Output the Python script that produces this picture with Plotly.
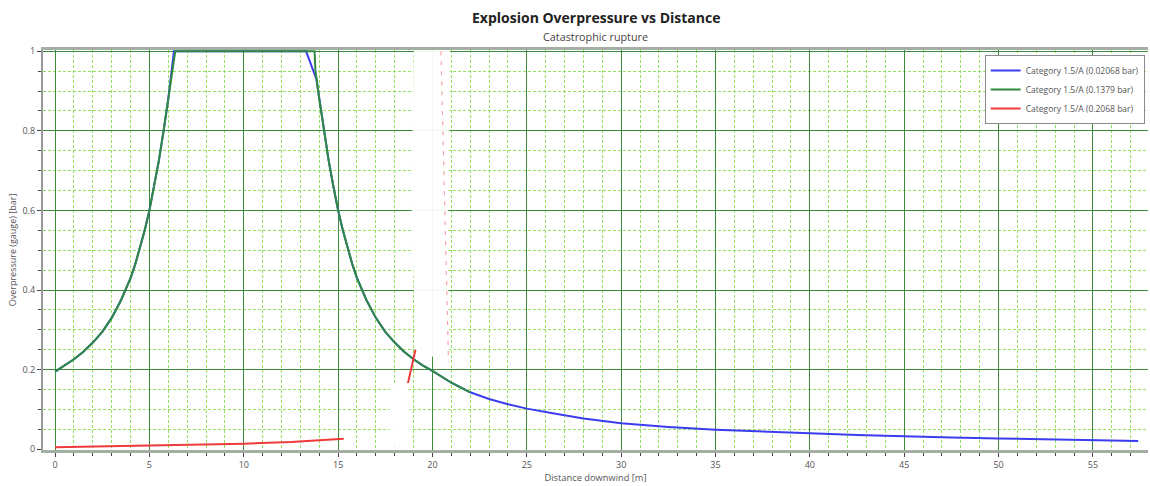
import plotly.graph_objects as go

# ---------------- data ----------------
dist_blue = [0, 0.5, 1, 1.5, 2, 2.5, 3, 3.5, 4, 4.25, 4.5, 4.75, 5, 5.25, 5.5, 5.75, 6.0, 6.3,
             13.3, 13.85, 14.0, 14.25, 14.5, 14.75, 15, 15.25, 15.5, 15.75, 16, 16.5, 17, 17.5,
             18, 18.5, 19, 19.5, 20, 21, 22, 23, 24, 25, 26.3, 28, 30, 32.5, 35, 37.5, 40, 42.5,
             45, 47.5, 50, 52.5, 55, 57.4]
press_blue = [0.195, 0.21, 0.226, 0.245, 0.268, 0.295, 0.33, 0.375, 0.43, 0.465, 0.505, 0.55, 0.60, 0.66, 0.725, 0.80, 0.88, 1.0,
              1.0, 0.93, 0.88, 0.80, 0.725, 0.66, 0.60, 0.55, 0.505, 0.465, 0.43, 0.375, 0.33, 0.295,
              0.268, 0.245, 0.226, 0.21, 0.197, 0.167, 0.143, 0.126, 0.113, 0.102, 0.091, 0.077, 0.065, 0.056,
              0.049, 0.044, 0.040, 0.036, 0.032, 0.0295, 0.027, 0.0245, 0.0225, 0.0205]

dist_green = [0, 0.5, 1, 1.5, 2, 2.5, 3, 3.5, 4, 4.25, 4.5, 4.75, 5, 5.25, 5.5, 5.75, 6.0, 6.2, 6.37,
              13.75, 13.8, 14.0, 14.25, 14.5, 14.75, 15, 15.25, 15.5, 15.75, 16, 16.5, 17, 17.5,
              18, 18.5, 19, 19.5, 20, 21, 22]
press_green = [0.195, 0.21, 0.226, 0.245, 0.268, 0.295, 0.33, 0.375, 0.43, 0.465, 0.505, 0.55, 0.60, 0.66, 0.725, 0.80, 0.88, 0.95, 1.0,
               1.0, 0.95, 0.88, 0.80, 0.725, 0.66, 0.60, 0.55, 0.505, 0.465, 0.43, 0.375, 0.33, 0.295,
               0.268, 0.245, 0.226, 0.21, 0.197, 0.167, 0.143]

# visible red pieces (the rest is hidden by the white patch in the reference)
dist_red = [0, 2.5, 5, 7.5, 10, 12.5, 15.3, None, 18.7, 18.9, 19.1]
press_red = [0.005, 0.007, 0.009, 0.011, 0.014, 0.018, 0.026, None, 0.166, 0.21, 0.25]
dist_red_faint = [20.45, 20.6, 20.7, 20.85]
press_red_faint = [1.0, 0.7, 0.45, 0.22]

series_names = ["Category 1.5/A (0.02068 bar)",
                "Category 1.5/A (0.1379 bar)",
                "Category 1.5/A (0.2068 bar)"]

x_ticks = [0, 5, 10, 15, 20, 25, 30, 35, 40, 45, 50, 55]
y_ticks = [0, 0.2, 0.4, 0.6, 0.8, 1]

FONT = "Open Sans"
BLUE = "#3c3cf0"
GREEN = "#2e8a40"
RED = "#ee3a3a"

fig = go.Figure()
fig.add_trace(go.Scatter(x=dist_blue, y=press_blue, mode="lines", name=series_names[0],
                         line=dict(color=BLUE, width=2)))
fig.add_trace(go.Scatter(x=dist_green, y=press_green, mode="lines", name=series_names[1],
                         line=dict(color=GREEN, width=2)))
fig.add_trace(go.Scatter(x=dist_red, y=press_red, mode="lines", name=series_names[2],
                         line=dict(color=RED, width=2), connectgaps=False))
fig.add_trace(go.Scatter(x=dist_red_faint, y=press_red_faint, mode="lines", showlegend=False,
                         line=dict(color=RED, width=1.2, dash="4px,6px"), opacity=0.45,
                         hoverinfo="skip"))

# white patches present in the reference picture
fig.add_shape(type="path", xref="x", yref="y", layer="between",
              path="M 19.0,1.003 L 20.95,1.003 L 20.8,0.5 L 20.9,0.22 L 19.1,0.245 L 18.9,0.6 Z",
              fillcolor="white", opacity=0.93, line=dict(width=0))
fig.add_shape(type="path", xref="x", yref="y", layer="between",
              path="M 17.7,0.004 L 18.9,0.004 L 18.7,0.162 L 17.75,0.162 Z",
              fillcolor="white", opacity=0.95, line=dict(width=0))

fig.update_layout(
    width=1150, height=486,
    margin=dict(l=43, r=2, t=50, b=36),
    paper_bgcolor="white", plot_bgcolor="white",
    font=dict(family=FONT, size=9, color="#555"),
    showlegend=True,
    legend=dict(x=0.997, xanchor="right", y=0.9875, yanchor="top",
                bgcolor="white", bordercolor="#8a8a8a", borderwidth=1,
                font=dict(family=FONT, size=8.5, color="#555"),
                tracegroupgap=0, itemwidth=30),
    annotations=[
        dict(text="<b>Explosion Overpressure vs Distance</b>", xref="paper", yref="paper",
             x=0.5, y=1.08, xanchor="center", yanchor="middle", showarrow=False,
             font=dict(family=FONT, size=14, color="#222")),
        dict(text="Catastrophic rupture", xref="paper", yref="paper",
             x=0.5, y=1.035, xanchor="center", yanchor="middle", showarrow=False,
             font=dict(family=FONT, size=10.8, color="#444")),
    ],
)

fig.update_xaxes(
    range=[-0.64, 57.92], tickmode="array", tickvals=x_ticks,
    showgrid=True, gridcolor="#3c8c3c", gridwidth=1,
    ticks="outside", ticklen=4, tickcolor="#444", tickwidth=1,
    tickfont=dict(family=FONT, size=9, color="#555"),
    showline=True, linecolor="#a4afa4", linewidth=3, mirror=True, zeroline=False,
    minor=dict(dtick=1, tick0=0, showgrid=True, gridcolor="#95e060", griddash="3px,2px",
               gridwidth=1, ticks="outside", ticklen=3, tickcolor="#444"),
    title=dict(text="Distance downwind [m]", font=dict(family=FONT, size=9.3, color="#555"), standoff=2),
)
fig.update_yaxes(
    range=[-0.002, 1.003], tickmode="array", tickvals=y_ticks,
    showgrid=True, gridcolor="#3c8c3c", gridwidth=1,
    ticks="outside", ticklen=4, tickcolor="#444", tickwidth=1,
    tickfont=dict(family=FONT, size=9, color="#555"),
    showline=True, linecolor="#999999", linewidth=2, mirror=False, zeroline=False,
    minor=dict(dtick=0.05, tick0=0, showgrid=True, gridcolor="#95e060", griddash="3px,2px",
               gridwidth=1, ticks="outside", ticklen=3, tickcolor="#444"),
    title=dict(text="Overpressure (gauge) [bar]", font=dict(family=FONT, size=9, color="#555"), standoff=4),
)

fig.write_html("out.html", config={"displayModeBar": False},
               post_script="document.body.style.margin='0';")
